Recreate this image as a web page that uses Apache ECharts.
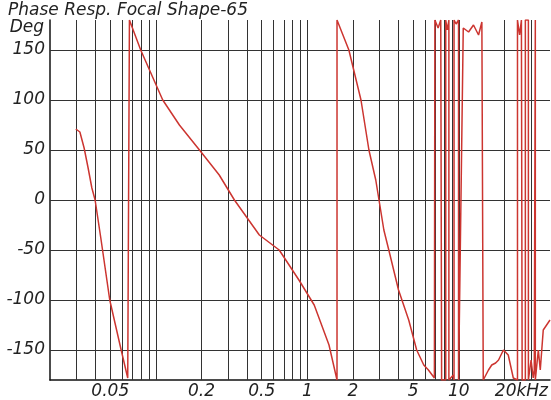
<!DOCTYPE html>
<html>
<head>
<meta charset="utf-8">
<script src="https://cdn.jsdelivr.net/npm/echarts@6/dist/echarts.min.js"></script>
<style>html,body{margin:0;padding:0;background:#fff}#chart{width:551px;height:400px}</style>
</head>
<body>
<div id="chart"></div>
<script>
// frequency in kHz, phase in degrees (wraps drawn as vertical jumps)
var freqs = [0.0296, 0.0315, 0.0336, 0.0357, 0.0378, 0.0397, 0.0433, 0.0496, 0.059, 0.0652, 0.0669, 0.0669,
  0.0682, 0.0794, 0.111, 0.143, 0.194, 0.262, 0.33, 0.482, 0.652, 0.88, 1.11, 1.39, 1.57, 1.57,
  1.61, 1.88, 2.26, 2.55, 2.83, 3.2, 3.45, 4.0, 4.67, 5.27, 5.87, 6.3, 6.9, 6.95, 6.95,
  7.3, 7.6, 7.7, 7.7, 8.2, 8.2, 8.4, 8.6, 8.6, 9.2, 9.3, 9.3, 9.6, 9.96, 9.96,
  10.7, 11.6, 12.5, 13.5, 14.2, 14.5, 14.5,
  15.7, 16.5, 17.5, 18.3, 19.7, 21.2, 22.9, 23.2, 24.4, 24.4, 25.2, 25.9, 26.2, 26.2,
  27.5, 27.5, 28.8, 28.8, 30.0, 31.0, 31.5, 32.0, 32.0, 33.5, 34.5, 36.1, 38.0, 40];
var phase = [71, 68, 52, 32, 12, 0, -38, -100, -150, -178, -180, 180,
  178, 150, 100, 75, 50, 25, 0, -35, -50, -80, -105, -145, -180, 180,
  178, 150, 100, 50, 20, -30, -50, -90, -120, -150, -165, -170, -178, -180, 180,
  172, 180, 180, -180, -180, 180, 170, 180, -180, -175, -180, 180, 176, 180, -180,
  172, 168, 175, 165, 178, 180, -180,
  -170, -165, -163, -160, -150, -155, -178, -180, -180, 180, 165, 180, 180, -180,
  -180, 180, 180, -180, -160, -178, -170, 180, -180, -150, -170, -130, -125, -120];
var gridFreqs = [0.03, 0.04, 0.05, 0.06, 0.07, 0.08, 0.09, 0.1, 0.2, 0.3, 0.4, 0.5, 0.6, 0.7, 0.8, 0.9, 1,
  2, 3, 4, 5, 6, 7, 8, 9, 10, 20, 30];
var freqLabels = {0.05: '0.05', 0.2: '0.2', 0.5: '0.5', 1: '1', 2: '2', 5: '5', 10: '10', 20: '20kHz'};
var degTicks = [150, 100, 50, 0, -50, -100, -150];

var labelFont = {color: '#222', fontSize: 17, fontStyle: 'italic', fontFamily: 'DejaVu Sans'};

var vLines = gridFreqs.map(function (f) {
  var lab = freqLabels[f];
  return {
    xAxis: f,
    label: lab ? Object.assign({show: true, position: 'start', formatter: lab, distance: 3,
      offset: lab === '20kHz' ? [17, 0] : [0, 0]}, labelFont) : {show: false}
  };
});
var hLines = degTicks.map(function (d) {
  return {yAxis: d, label: Object.assign({show: true, position: 'start', formatter: String(d), distance: 5}, labelFont)};
});

var chart = echarts.init(document.getElementById('chart'));
chart.setOption({
  animation: false,
  title: {text: 'Phase Resp. Focal Shape-65', left: 3, top: -3,
    textStyle: {fontSize: 17, fontWeight: 'normal', fontStyle: 'italic', color: '#222', fontFamily: 'DejaVu Sans'}},
  grid: {left: 50, right: 1, top: 20, bottom: 20},
  xAxis: {type: 'log', min: 0.02, max: 40, logBase: 10,
    axisLine: {show: true, onZero: false, lineStyle: {color: '#111', width: 1.5}},
    axisTick: {show: false}, axisLabel: {show: false}, splitLine: {show: false}},
  yAxis: {type: 'value', min: -180, max: 180, name: 'Deg', nameLocation: 'end', nameGap: -16,
    nameTextStyle: Object.assign({align: 'right', padding: [0, 6, 0, 0]}, labelFont),
    axisLine: {show: true, lineStyle: {color: '#111', width: 1.5}},
    axisTick: {show: false}, axisLabel: {show: false}, splitLine: {show: false}},
  series: [{
    type: 'line',
    data: freqs.map(function (f, i) { return [f, phase[i]]; }),
    showSymbol: false,
    lineStyle: {color: '#cc3530', width: 1.5},
    z: 5,
    markLine: {
      silent: true, symbol: 'none', animation: false,
      lineStyle: {color: '#333', width: 1, type: 'solid'},
      data: vLines.concat(hLines)
    }
  }]
});
</script>
</body>
</html>
